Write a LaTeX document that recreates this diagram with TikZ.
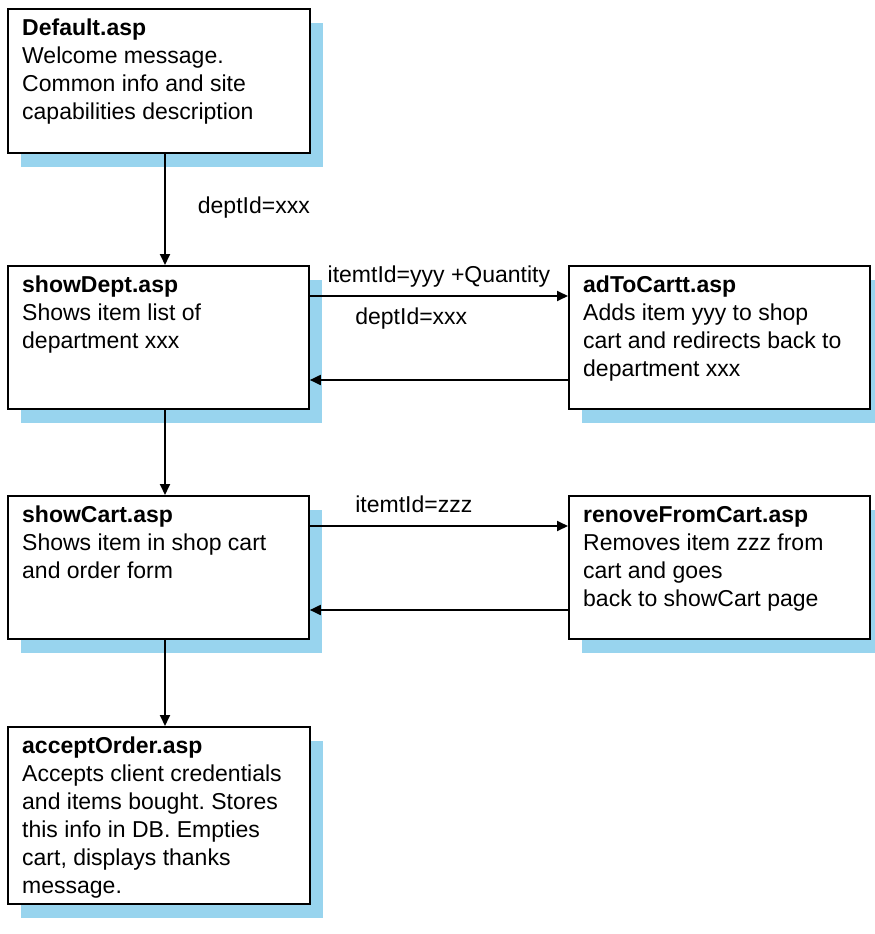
\documentclass[tikz,border=0pt]{standalone}
\usepackage{fontspec}
\setmainfont{Liberation Sans}
\usetikzlibrary{arrows.meta,shadows}
\definecolor{shadowblue}{RGB}{152,212,238}
\frenchspacing
\begin{document}
\begin{tikzpicture}[x=1pt,y=-1pt,
  box/.style={draw=black, line width=1.8pt, fill=white, rectangle, inner sep=0pt, anchor=north west,
    drop shadow={shadow xshift=13pt, shadow yshift=-14pt, opacity=1, fill=shadowblue, draw=none}},
  txt/.style={anchor=north west, inner sep=0pt, align=left, font=\fontsize{23}{28}\selectfont},
  lbl/.style={inner sep=0pt, font=\fontsize{23}{28}\selectfont},
  arr/.style={line width=1.8pt, -{Triangle[length=11pt,width=10pt]}}]
\useasboundingbox (0,0) rectangle (875,934);
\coordinate (vx) at (165,0);

\node[box, minimum width=302pt, minimum height=144pt] (def) at (7,8) {};
\node[txt] (deft) at ([shift={(15,11)}]def.north west) {\textbf{Default.asp}\\Welcome message.\\Common info and site\\capabilities description};

\node[box, minimum width=301pt, minimum height=143pt] (dept) at (7,265) {};
\node[txt] (deptt) at ([shift={(15,11)}]dept.north west) {\textbf{showDept.asp}\\Shows item list of\\department xxx};

\node[box, minimum width=301pt, minimum height=143pt] (add) at (568,265) {};
\node[txt] (addt) at ([shift={(15,11)}]add.north west) {\textbf{adToCartt.asp}\\Adds item yyy to shop\\cart and redirects back to\\department xxx};

\node[box, minimum width=301pt, minimum height=143pt] (cart) at (7,495) {};
\node[txt] (cartt) at ([shift={(15,11)}]cart.north west) {\textbf{showCart.asp}\\Shows item in shop cart\\and order form};

\node[box, minimum width=301pt, minimum height=143pt] (rem) at (568,495) {};
\node[txt] (remt) at ([shift={(15,11)}]rem.north west) {\textbf{renoveFromCart.asp}\\Removes item zzz from\\cart and goes\\back to showCart page};

\node[box, minimum width=302pt, minimum height=177pt] (acc) at (7,726) {};
\node[txt] (acct) at ([shift={(15,11)}]acc.north west) {\textbf{acceptOrder.asp}\\Accepts client credentials\\and items bought. Stores\\this info in DB. Empties\\cart, displays thanks\\message.};

\draw[arr] (def.south -| vx) -- node[lbl, pos=0.54, anchor=base west, xshift=32pt] (l1) {deptId=xxx} (dept.north -| vx);
\draw[arr] (dept.south -| vx) -- (cart.north -| vx);
\draw[arr] (cart.south -| vx) -- (acc.north -| vx);

\draw[arr] ([yshift=-31pt]dept.north east) --
  node[lbl, midway, anchor=base, yshift=14pt] (l2) {itemtId=yyy +Quantity}
  node[lbl, pos=0.173, anchor=base west, yshift=-28pt] (l3) {deptId=xxx}
  ([yshift=-31pt]add.north west);
\draw[arr] ([yshift=-115pt]add.north west) -- ([yshift=-115pt]dept.north east);

\draw[arr] ([yshift=-31pt]cart.north east) --
  node[lbl, pos=0.173, anchor=base west, yshift=14pt] (l4) {itemtId=zzz}
  ([yshift=-31pt]rem.north west);
\draw[arr] ([yshift=-115pt]rem.north west) -- ([yshift=-115pt]cart.north east);
\end{tikzpicture}
\end{document}
